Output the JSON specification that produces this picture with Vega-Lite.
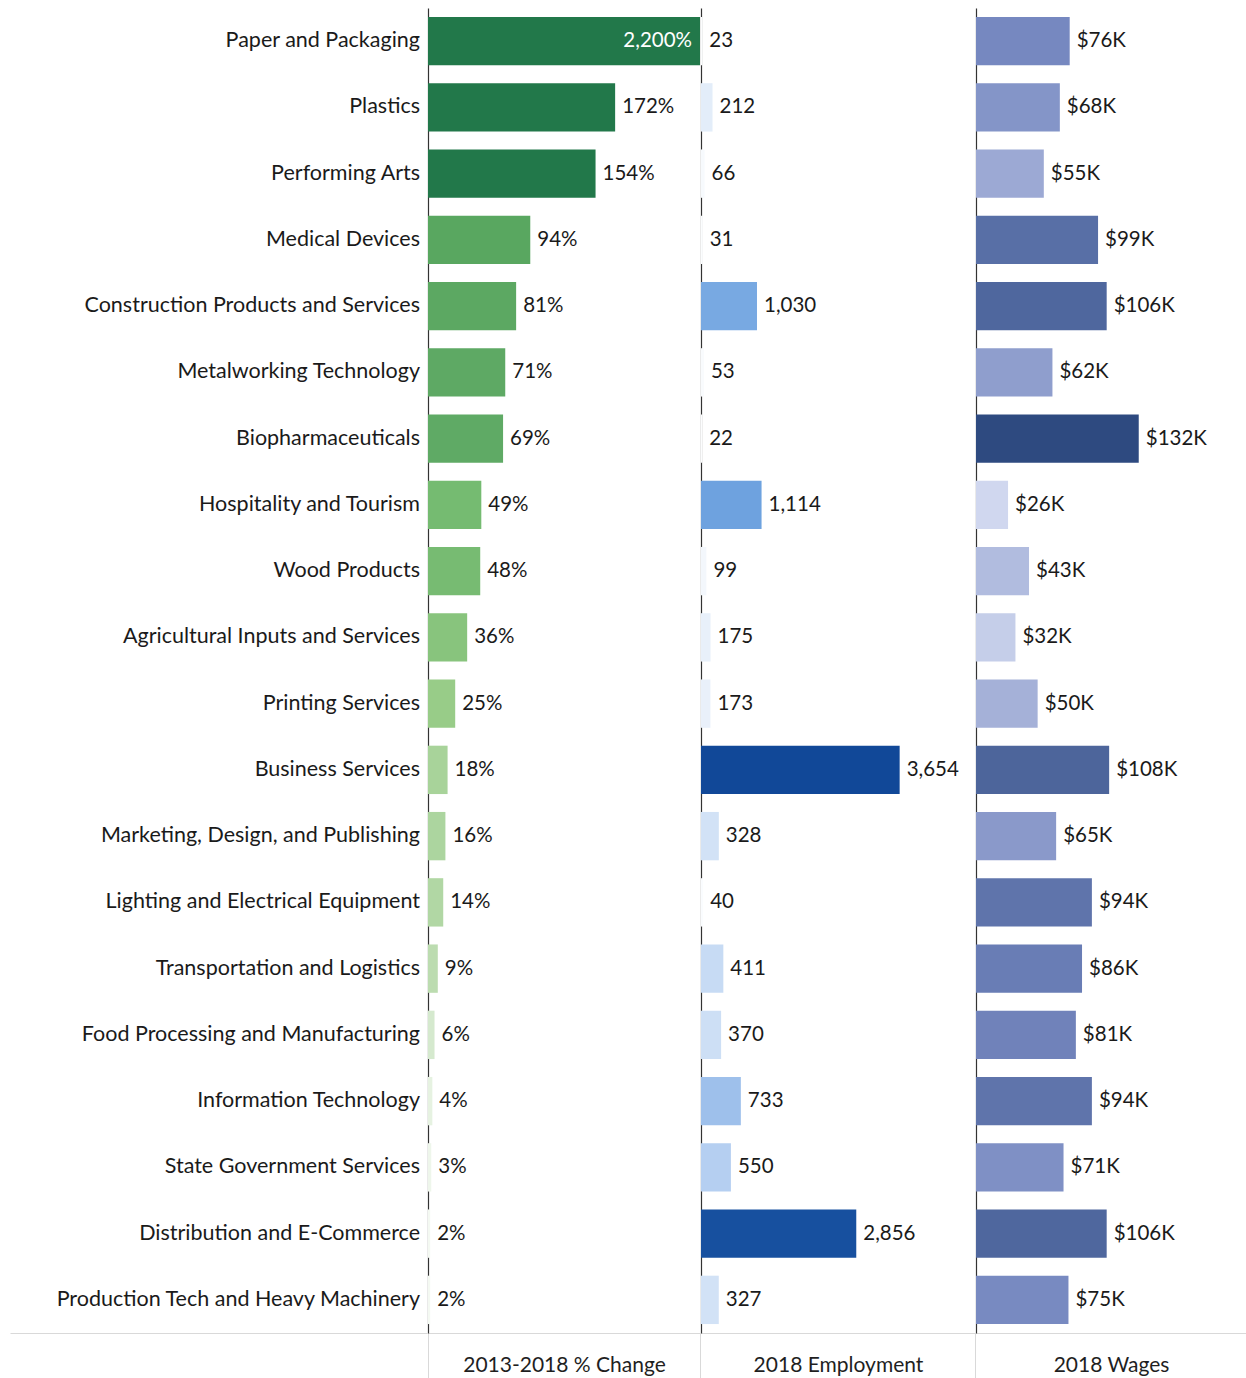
{
  "$schema": "https://vega.github.io/schema/vega-lite/v6.json",
  "background": "white",
  "padding": {"left": 10, "top": 8, "right": 3, "bottom": 0},
  "spacing": 0,
  "config": {
    "view": {"stroke": null},
    "font": "Lato",
    "concat": {"spacing": 0},
    "axis": {"grid": false, "titleFont": "Lato", "titleFontSize": 21, "titleFontWeight": "normal", "titleColor": "#1f1f1f"}
  },
  "data": {
    "values": [
      {"cluster": "Paper and Packaging", "change": 22.00, "emp": 23, "wage": 76},
      {"cluster": "Plastics", "change": 1.72, "emp": 212, "wage": 68},
      {"cluster": "Performing Arts", "change": 1.54, "emp": 66, "wage": 55},
      {"cluster": "Medical Devices", "change": 0.94, "emp": 31, "wage": 99},
      {"cluster": "Construction Products and Services", "change": 0.81, "emp": 1030, "wage": 106},
      {"cluster": "Metalworking Technology", "change": 0.71, "emp": 53, "wage": 62},
      {"cluster": "Biopharmaceuticals", "change": 0.69, "emp": 22, "wage": 132},
      {"cluster": "Hospitality and Tourism", "change": 0.49, "emp": 1114, "wage": 26},
      {"cluster": "Wood Products", "change": 0.48, "emp": 99, "wage": 43},
      {"cluster": "Agricultural Inputs and Services", "change": 0.36, "emp": 175, "wage": 32},
      {"cluster": "Printing Services", "change": 0.25, "emp": 173, "wage": 50},
      {"cluster": "Business Services", "change": 0.18, "emp": 3654, "wage": 108},
      {"cluster": "Marketing, Design, and Publishing", "change": 0.16, "emp": 328, "wage": 65},
      {"cluster": "Lighting and Electrical Equipment", "change": 0.14, "emp": 40, "wage": 94},
      {"cluster": "Transportation and Logistics", "change": 0.09, "emp": 411, "wage": 86},
      {"cluster": "Food Processing and Manufacturing", "change": 0.06, "emp": 370, "wage": 81},
      {"cluster": "Information Technology", "change": 0.04, "emp": 733, "wage": 94},
      {"cluster": "State Government Services", "change": 0.03, "emp": 550, "wage": 71},
      {"cluster": "Distribution and E-Commerce", "change": 0.02, "emp": 2856, "wage": 106},
      {"cluster": "Production Tech and Heavy Machinery", "change": 0.02, "emp": 327, "wage": 75}
    ]
  },
  "resolve": {"scale": {"color": "independent", "x": "independent"}},
  "hconcat": [
    {
      "width": 417,
      "height": 1325,
      "mark": {"type": "text", "align": "right", "baseline": "middle", "dx": -7, "fontSize": 21.5, "font": "Lato", "color": "#1a1a1a"},
      "encoding": {
        "y": {"field": "cluster", "type": "nominal", "sort": null, "axis": null},
        "x": {"datum": 1, "type": "quantitative", "scale": {"domain": [0, 1]},
              "axis": {"title": null, "labels": false, "ticks": false, "domain": true, "domainColor": "#d9d9d9"}},
        "text": {"field": "cluster"}
      }
    },
    {
      "width": 272,
      "height": 1325,
      "encoding": {
        "y": {"field": "cluster", "type": "nominal", "sort": null,
              "scale": {"paddingInner": 0.27, "paddingOuter": 0.135},
              "axis": {"title": null, "labels": false, "ticks": false, "domain": true, "domainColor": "#333333", "domainWidth": 1.2}},
        "x": {"field": "change", "type": "quantitative", "scale": {"domain": [0, 2.5], "clamp": true, "nice": false},
              "axis": {"title": "2013-2018 % Change", "labels": false, "values": [0, 2.5], "tickSize": 45, "tickColor": "#d9d9d9", "domainColor": "#d9d9d9", "titleY": 32, "titleBaseline": "middle"}}
      },
      "layer": [
        {
          "mark": {"type": "bar"},
          "encoding": {
            "color": {"field": "change", "type": "quantitative", "legend": null,
                      "scale": {"domain": [0, 0.03, 0.09, 0.25, 0.5, 0.7, 1.0, 1.5],
                                "range": ["#ffffff", "#eef6eb", "#bcdcb0", "#98cc88", "#74ba70", "#5ea964", "#58a75f", "#22784a"],
                                "clamp": true, "interpolate": "rgb"}}
          }
        },
        {
          "transform": [{"filter": "datum.change <= 2.5"}],
          "mark": {"type": "text", "align": "left", "baseline": "middle", "dx": 7, "fontSize": 20.5, "font": "Lato", "color": "#1a1a1a"},
          "encoding": {"text": {"field": "change", "type": "quantitative", "format": ",.0%"}}
        },
        {
          "transform": [{"filter": "datum.change > 2.5"}],
          "mark": {"type": "text", "align": "right", "baseline": "middle", "dx": -8, "fontSize": 20.5, "font": "Lato", "color": "#ffffff"},
          "encoding": {"text": {"field": "change", "type": "quantitative", "format": ",.0%"}}
        }
      ]
    },
    {
      "width": 274,
      "height": 1325,
      "encoding": {
        "y": {"field": "cluster", "type": "nominal", "sort": null,
              "scale": {"paddingInner": 0.27, "paddingOuter": 0.135},
              "axis": {"title": null, "labels": false, "ticks": false, "domain": true, "domainColor": "#333333", "domainWidth": 1.2}},
        "x": {"field": "emp", "type": "quantitative", "scale": {"domain": [0, 5040], "nice": false},
              "axis": {"title": "2018 Employment", "labels": false, "values": [5040], "tickSize": 45, "tickColor": "#d9d9d9", "domainColor": "#d9d9d9", "titleY": 32, "titleBaseline": "middle"}}
      },
      "layer": [
        {
          "mark": {"type": "bar"},
          "encoding": {
            "color": {"field": "emp", "type": "quantitative", "legend": null,
                      "scale": {"domain": [0, 100, 330, 550, 1100, 2800, 3700],
                                "range": ["#ffffff", "#f3f7fc", "#d2e2f6", "#b5cff1", "#6fa3e0", "#17509f", "#114898"],
                                "interpolate": "rgb"}}
          }
        },
        {
          "mark": {"type": "text", "align": "left", "baseline": "middle", "dx": 7, "fontSize": 20.5, "font": "Lato", "color": "#1a1a1a"},
          "encoding": {"text": {"field": "emp", "type": "quantitative", "format": ",d"}}
        }
      ]
    },
    {
      "width": 270,
      "height": 1325,
      "encoding": {
        "y": {"field": "cluster", "type": "nominal", "sort": null,
              "scale": {"paddingInner": 0.27, "paddingOuter": 0.135},
              "axis": {"title": null, "labels": false, "ticks": false, "domain": true, "domainColor": "#333333", "domainWidth": 1.2}},
        "x": {"field": "wage", "type": "quantitative", "scale": {"domain": [0, 219], "nice": false},
              "axis": {"title": "2018 Wages", "labels": false, "values": [219], "tickSize": 45, "tickColor": "#d9d9d9", "domainColor": "#d9d9d9", "titleY": 32, "titleBaseline": "middle"}}
      },
      "layer": [
        {
          "mark": {"type": "bar"},
          "encoding": {
            "color": {"field": "wage", "type": "quantitative", "legend": null,
                      "scale": {"domain": [26, 76, 132],
                                "range": ["#d0d7ef", "#7688c0", "#2e4a80"],
                                "interpolate": "rgb"}}
          }
        },
        {
          "transform": [{"calculate": "'$' + datum.wage + 'K'", "as": "wlabel"}],
          "mark": {"type": "text", "align": "left", "baseline": "middle", "dx": 7, "fontSize": 20.5, "font": "Lato", "color": "#1a1a1a"},
          "encoding": {"text": {"field": "wlabel", "type": "nominal"}}
        }
      ]
    }
  ]
}
